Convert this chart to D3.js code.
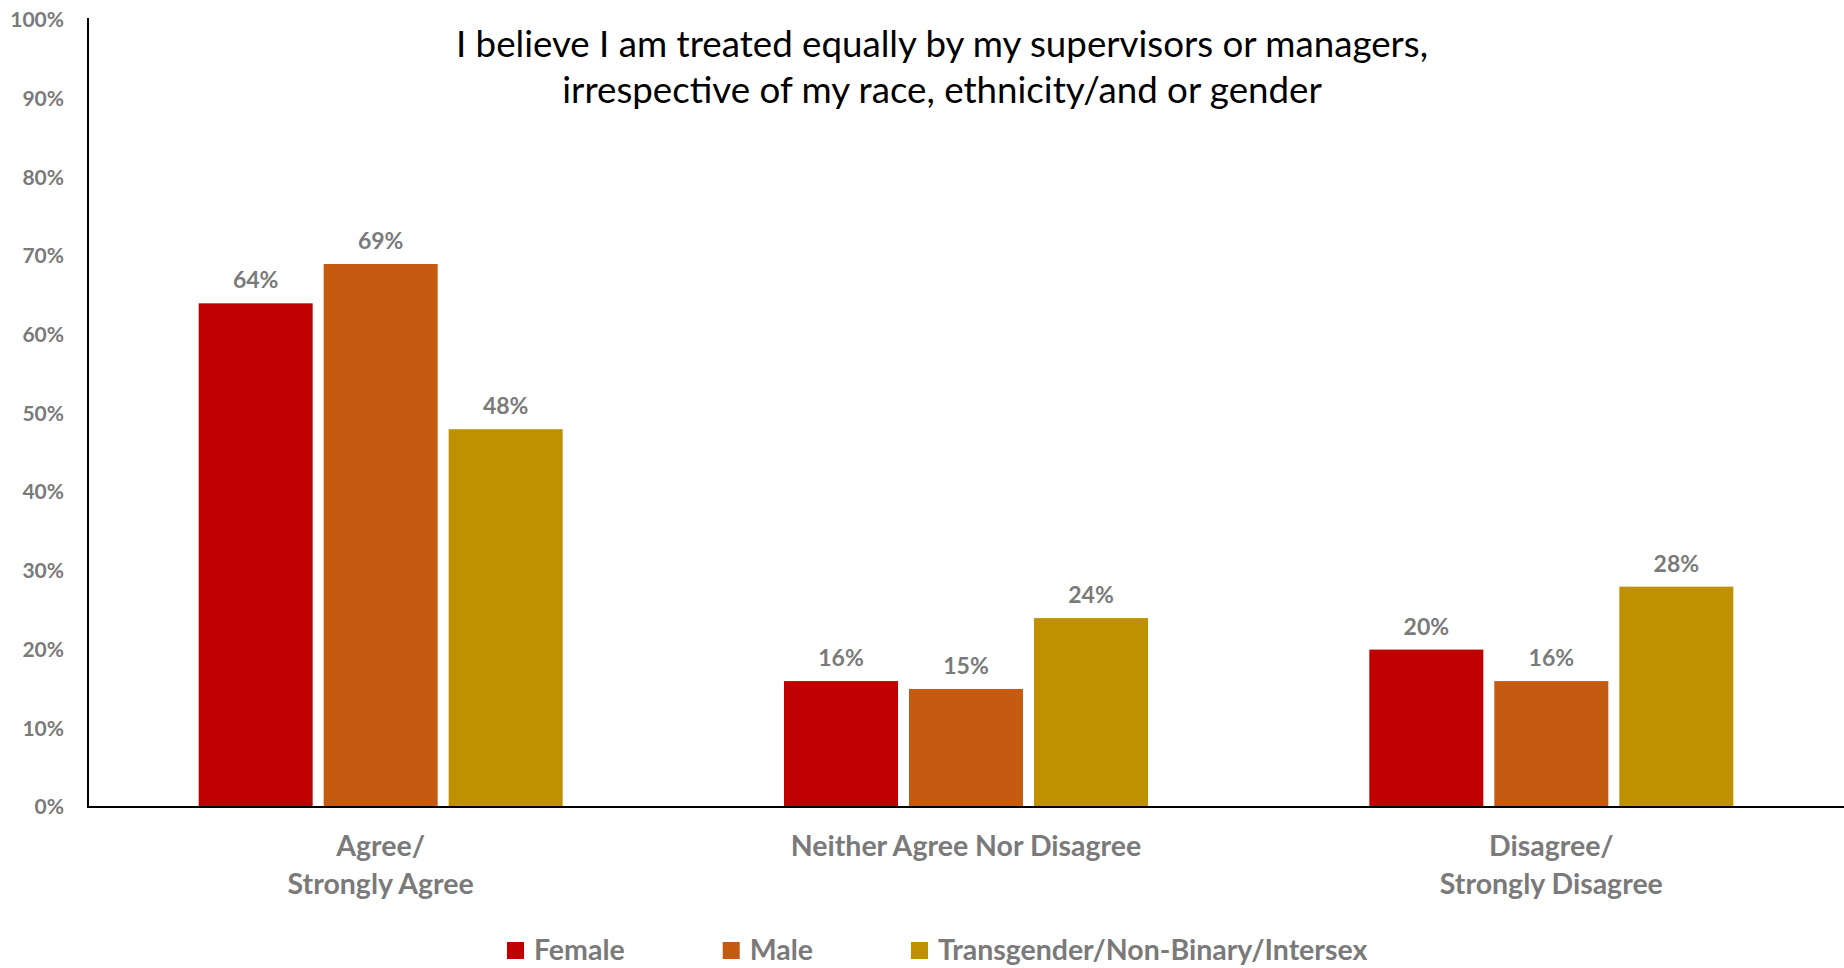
<!DOCTYPE html>
<html>
<head>
<meta charset="utf-8">
<script src="https://cdn.jsdelivr.net/npm/d3@7"></script>
<style>
  html, body { margin: 0; padding: 0; background: #fff; }
  svg { display: block; font-family: Lato, "Open Sans", sans-serif; }
</style>
</head>
<body>
<svg id="chart" width="1844" height="968"></svg>
<script>
// Survey responses, percent of each group
const categories = [["Agree/", "Strongly Agree"], ["Neither Agree Nor Disagree"], ["Disagree/", "Strongly Disagree"]];
const seriesNames = ["Female", "Male", "Transgender/Non-Binary/Intersex"];
const female = [64, 16, 20];
const male = [69, 15, 16];
const transNB = [48, 24, 28];
const yTicks = [0, 10, 20, 30, 40, 50, 60, 70, 80, 90, 100];
const titleLines = ["I believe I am treated equally by my supervisors or managers,", "irrespective of my race, ethnicity/and or gender"];

const colors = ["#C00000", "#C55A11", "#BF9000"];
const gray = "#7a7a7a";
const values = [female, male, transNB];

const svg = d3.select("#chart");
const plot = { left: 88, right: 1844, top: 20, bottom: 807 };

const x0 = d3.scaleBand().domain(d3.range(categories.length)).range([plot.left, plot.right]);
const groupW = 364;
const x1 = d3.scaleBand().domain(d3.range(seriesNames.length)).range([0, groupW]).paddingInner(0.088);
const y = d3.scaleLinear().domain([0, 100]).range([plot.bottom, plot.top]);

// y tick labels (no tick marks)
const yAxis = d3.axisLeft(y).tickValues(yTicks).tickSize(0).tickPadding(0).tickFormat(d => d + "%");
const gy = svg.append("g").attr("transform", `translate(64,0)`).call(yAxis);
gy.select(".domain").remove();
gy.selectAll("text")
  .attr("fill", gray)
  .style("font-size", "21px")
  .style("font-weight", "bold")
  .style("font-family", "Lato, sans-serif");

// bars
const groups = svg.append("g").selectAll("g")
  .data(categories.map((c, i) => i))
  .join("g")
  .attr("transform", i => `translate(${x0(i) + (x0.bandwidth() - groupW) / 2},0)`);

groups.selectAll("rect")
  .data(i => values.map((s, k) => ({ k, v: s[i] })))
  .join("rect")
  .attr("x", d => x1(d.k))
  .attr("width", x1.bandwidth())
  .attr("y", d => y(d.v))
  .attr("height", d => y(0) - y(d.v))
  .attr("fill", d => colors[d.k]);

groups.selectAll("text.val")
  .data(i => values.map((s, k) => ({ k, v: s[i] })))
  .join("text")
  .attr("class", "val")
  .attr("x", d => x1(d.k) + x1.bandwidth() / 2)
  .attr("y", d => y(d.v) - 15)
  .attr("text-anchor", "middle")
  .attr("fill", gray)
  .style("font-size", "23px")
  .style("font-weight", "bold")
  .text(d => d.v + "%");

// axis lines
svg.append("line")
  .attr("x1", plot.left).attr("x2", plot.left)
  .attr("y1", 18).attr("y2", plot.bottom + 1)
  .attr("stroke", "#000").attr("stroke-width", 2);
svg.append("line")
  .attr("x1", plot.left - 1).attr("x2", plot.right)
  .attr("y1", plot.bottom).attr("y2", plot.bottom)
  .attr("stroke", "#000").attr("stroke-width", 2);

// category labels
const xl = svg.append("g").selectAll("text")
  .data(categories)
  .join("text")
  .attr("x", (c, i) => x0(i) + x0.bandwidth() / 2)
  .attr("y", 856)
  .attr("text-anchor", "middle")
  .attr("fill", gray)
  .style("font-size", "28.5px")
  .style("font-weight", "bold");
xl.selectAll("tspan")
  .data(c => c)
  .join("tspan")
  .attr("x", function () { return this.parentNode.getAttribute("x"); })
  .attr("dy", (d, j) => j === 0 ? 0 : 38)
  .text(d => d);

// title
svg.append("text")
  .attr("x", 942)
  .attr("y", 57)
  .attr("text-anchor", "middle")
  .attr("fill", "#000")
  .style("font-size", "36.7px")
  .selectAll("tspan")
  .data(titleLines)
  .join("tspan")
  .attr("x", 942)
  .attr("dy", (d, j) => j === 0 ? 0 : 46)
  .text(d => d);

// legend
const legend = svg.append("g");
let lx = 507;
seriesNames.forEach((name, k) => {
  legend.append("rect")
    .attr("x", lx).attr("y", 942)
    .attr("width", 17).attr("height", 17)
    .attr("fill", colors[k]);
  const t = legend.append("text")
    .attr("x", lx + 27).attr("y", 960)
    .attr("fill", gray)
    .style("font-size", "28.5px")
    .style("font-weight", "bold")
    .text(name);
  lx += 27 + t.node().getComputedTextLength() + 98;
});
</script>
</body>
</html>
